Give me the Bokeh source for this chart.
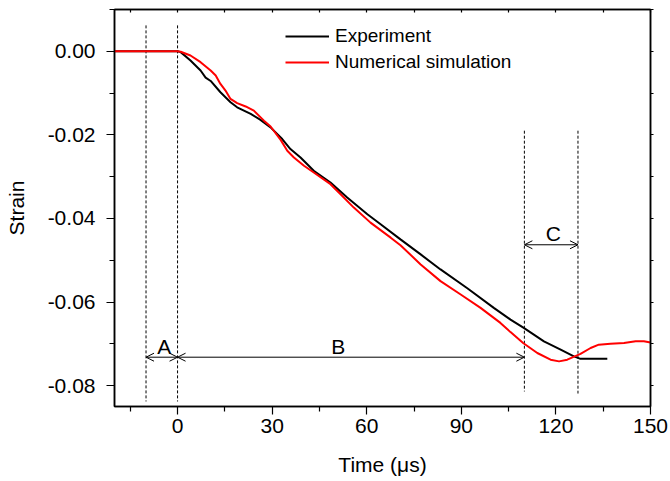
from bokeh.plotting import figure
from bokeh.models import (Range1d, FixedTicker, PrintfTickFormatter, LinearAxis,
                          Legend, LegendItem, Arrow, OpenHead, Label)
from bokeh.embed import file_html
from bokeh.resources import INLINE

# ---- data ----
exp_t = [-20, 0, 1, 4.1, 7.3, 8.9, 10.5, 13.6, 16.8, 18.9, 23.2, 26.3, 29.5, 33.2, 35.8,
         39.0, 43.2, 48.5, 53.8, 60.2, 64.4, 70.7, 77.1, 83.4, 91.9, 100.3, 105.6, 109.8,
         116.2, 121.5, 125.7, 127.8, 136.3]
exp_s = [0, 0, -0.0002, -0.0022, -0.0046, -0.0063, -0.0071, -0.0098, -0.0122, -0.0134,
         -0.0150, -0.0164, -0.0182, -0.0210, -0.0234, -0.0254, -0.0286, -0.0314, -0.0350,
         -0.0390, -0.0414, -0.0450, -0.0486, -0.0522, -0.0567, -0.0614, -0.0642, -0.0662,
         -0.0694, -0.0714, -0.0730, -0.0736, -0.0736]

sim_t = [-20, 0, 1, 4.1, 7.3, 10.5, 12.1, 13.6, 15.2, 16.8, 18.9, 21.6, 24.2, 27.4, 29.5,
         32.7, 34.8, 36.9, 40.1, 43.2, 48.5, 51.7, 55.9, 61.2, 67.6, 70.7, 77.1, 83.4, 89.8,
         96.1, 102.4, 105.6, 109.6, 114.1, 118.3, 121.0, 123.6, 127.8, 131.0, 133.6, 137.3,
         141.6, 145.3, 147.9, 150]
sim_s = [0, 0, -0.0001, -0.0010, -0.0026, -0.0046, -0.0058, -0.0078, -0.0094, -0.0114,
         -0.0124, -0.0132, -0.0142, -0.0166, -0.0180, -0.0212, -0.0238, -0.0254, -0.0274,
         -0.0290, -0.0318, -0.0342, -0.0374, -0.0410, -0.0446, -0.0464, -0.0510, -0.0550,
         -0.0582, -0.0614, -0.0650, -0.0672, -0.0698, -0.0722, -0.0738, -0.0742, -0.0738,
         -0.0724, -0.0710, -0.0702, -0.0700, -0.0698, -0.0694, -0.0694, -0.0697]

x_major = [0, 30, 60, 90, 120, 150]
x_minor = [-15, 15, 45, 75, 105, 135]
y_major = [0.0, -0.02, -0.04, -0.06, -0.08]
y_minor = [0.01, -0.01, -0.03, -0.05, -0.07]

# stage boundaries (dashed lines) and their vertical extents
bound_x = [-10, 0, 110, 127]
bound_top = [0.0062, 0.0062, -0.019, -0.019]
bound_bot = [-0.0838, -0.0838, -0.0814, -0.0819]

# stage arrows: (start, end, level) and labels
stage_names = ["A", "B", "C"]
stage_start = [-10, 0, 110]
stage_end = [0, 110, 127]
stage_level = [-0.0732, -0.0732, -0.0463]
label_x = [-4.2, 51, 119.2]
label_y = [-0.0706, -0.0706, -0.0437]

FONT = "Liberation Sans"

p = figure(width=670, height=481, output_backend="svg", toolbar_location=None,
           x_range=Range1d(-20, 150), y_range=Range1d(-0.085, 0.01),
           min_border_left=114, min_border_right=20, min_border_top=9, min_border_bottom=75)
p.xgrid.visible = False
p.ygrid.visible = False
p.outline_line_color = "black"
p.outline_line_width = 1.5
p.background_fill_color = "white"
p.border_fill_color = "white"

# axes
xa = p.xaxis[0]
xa.ticker = FixedTicker(ticks=x_major, minor_ticks=x_minor)
ya = p.yaxis[0]
ya.ticker = FixedTicker(ticks=y_major, minor_ticks=y_minor)
ya.formatter = PrintfTickFormatter(format="%.2f")
xa.axis_label = "Time (μs)"
ya.axis_label = "Strain"
for ax in (xa, ya):
    ax.axis_line_color = "black"
    ax.axis_line_width = 1.5
    ax.major_tick_line_color = "black"
    ax.minor_tick_line_color = "black"
    ax.major_tick_line_width = 1.2
    ax.minor_tick_line_width = 1.2
    ax.major_tick_out = 8
    ax.major_tick_in = 0
    ax.minor_tick_out = 5
    ax.minor_tick_in = 0
    ax.major_label_text_font = FONT
    ax.major_label_text_font_size = "21px"
    ax.major_label_text_color = "black"
    ax.axis_label_text_font = FONT
    ax.axis_label_text_font_size = "21px"
    ax.axis_label_text_font_style = "normal"
    ax.axis_label_text_color = "black"
xa.major_label_standoff = 4
xa.axis_label_standoff = 17
ya.major_label_standoff = 11
ya.axis_label_standoff = 17

# mirrored ticks (label-free: every tick given as a minor tick)
top = LinearAxis(ticker=FixedTicker(ticks=[], minor_ticks=x_major + x_minor),
                 minor_tick_out=0, minor_tick_in=3, minor_tick_line_color="black",
                 minor_tick_line_width=1.2,
                 axis_line_color="black", axis_line_width=1.5)
p.add_layout(top, "above")
right = LinearAxis(ticker=FixedTicker(ticks=[], minor_ticks=y_major + y_minor),
                   minor_tick_out=3, minor_tick_in=0, minor_tick_line_color="black",
                   minor_tick_line_width=1.2,
                   axis_line_color="black", axis_line_width=1.5)
p.add_layout(right, "right")

# dashed boundaries
p.segment(x0=bound_x, y0=bound_top, x1=bound_x, y1=bound_bot,
          line_color="black", line_width=1, line_dash="3 2")

# curves
r_exp = p.line(exp_t, exp_s, line_color="black", line_width=2)
r_sim = p.line(sim_t, sim_s, line_color="#ff0000", line_width=2)

# stage arrows and labels
for xs, xe, yl in zip(stage_start, stage_end, stage_level):
    p.add_layout(Arrow(start=OpenHead(size=8, line_width=1, line_color="black"),
                       end=OpenHead(size=8, line_width=1, line_color="black"),
                       x_start=xs, y_start=yl, x_end=xe, y_end=yl,
                       line_color="black", line_width=1))
for name, lx, ly in zip(stage_names, label_x, label_y):
    p.add_layout(Label(x=lx, y=ly, text=name, text_font=FONT, text_font_size="21px",
                       text_align="center", text_baseline="middle", text_color="black"))

legend = Legend(items=[LegendItem(label="Experiment", renderers=[r_exp]),
                       LegendItem(label="Numerical simulation", renderers=[r_sim])],
                location=(171, 333), orientation="vertical",
                label_text_font=FONT, label_text_font_size="19px", label_text_color="black",
                glyph_width=44, glyph_height=20, label_height=20, label_standoff=6,
                spacing=4, padding=0, margin=0, border_line_color=None,
                background_fill_alpha=0)
p.add_layout(legend, "center")

open("out.html", "w").write(file_html(p, INLINE))
